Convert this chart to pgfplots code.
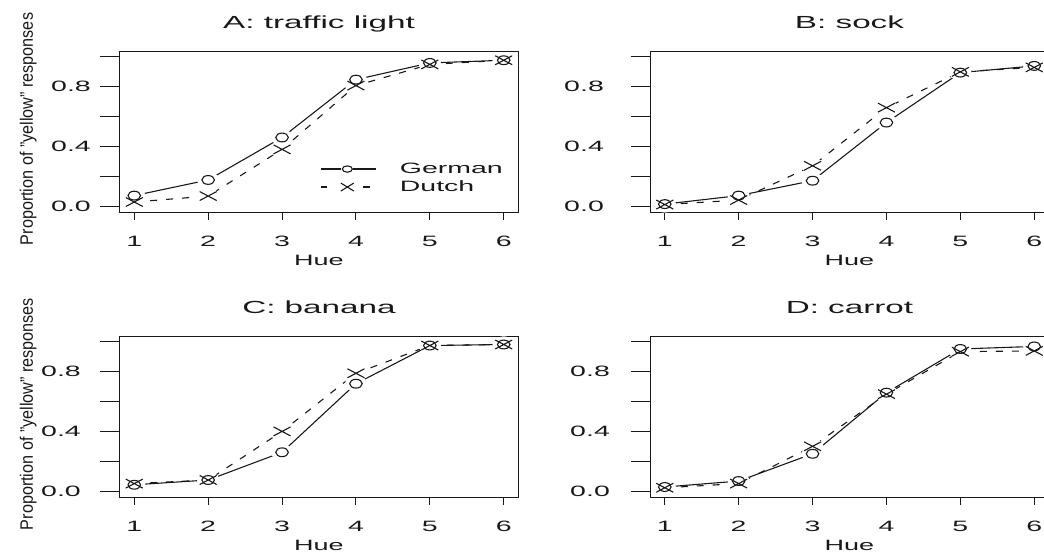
\documentclass[border=0pt]{standalone}
\usepackage{fontspec}
\setmainfont{Liberation Sans}
\usepackage{graphicx}
\usepackage{pgfplots}
\usepackage{pgfplotstable}
\pgfplotsset{compat=1.18}

\newcommand\w[1]{\scalebox{1.9}[1]{#1}}
\newcommand\wh[1]{\scalebox{1.8}[1]{#1}}

\pgfdeclareplotmark{gcirc}{%
  \pgfpathellipse{\pgfpointorigin}{\pgfqpoint{6.3bp}{0pt}}{\pgfqpoint{0pt}{4.4bp}}%
  \pgfusepathqstroke}
\pgfdeclareplotmark{dcross}{%
  \pgfpathmoveto{\pgfqpoint{-8.5bp}{-4.5bp}}\pgfpathlineto{\pgfqpoint{8.5bp}{4.5bp}}%
  \pgfpathmoveto{\pgfqpoint{-8.5bp}{4.5bp}}\pgfpathlineto{\pgfqpoint{8.5bp}{-4.5bp}}%
  \pgfusepathqstroke}
\pgfdeclareplotmark{gapblob}{%
  \pgfpathellipse{\pgfpointorigin}{\pgfqpoint{11bp}{0pt}}{\pgfqpoint{0pt}{8bp}}%
  \pgfusepathqfill}

\pgfplotstableread{
hue AG AD BG BD CG CD DG DD
1 0.070 0.027 0.013 0.010 0.042 0.050 0.027 0.022
2 0.175 0.067 0.070 0.040 0.074 0.074 0.067 0.050
3 0.460 0.380 0.170 0.270 0.260 0.400 0.250 0.300
4 0.848 0.808 0.560 0.660 0.720 0.790 0.660 0.650
5 0.960 0.950 0.895 0.900 0.976 0.976 0.953 0.935
6 0.978 0.978 0.940 0.930 0.983 0.983 0.970 0.940
}\hues

\definecolor{ink}{gray}{0.1}

\pgfplotsset{
  panel/.style={
    scale only axis, width=399bp, height=161bp,
    xmin=0.8, xmax=6.2, ymin=-0.04, ymax=1.04,
    axis line style={ink, line width=1bp},
    tick pos=left, tick align=outside,
    xtick={1,2,3,4,5,6}, xticklabels={\w{1},\w{2},\w{3},\w{4},\w{5},\w{6}},
    ytick={0,0.2,0.4,0.6,0.8,1}, yticklabels={\w{0.0},,\w{0.4},,\w{0.8},},
    xtick style={ink, line width=1bp, /pgfplots/major tick length=8bp},
    ytick style={ink, line width=1bp, /pgfplots/major tick length=19bp},
    font=\fontsize{15bp}{18bp}\selectfont,
    ticklabel style={font=\fontsize{15bp}{18bp}\selectfont, text=ink},
    xticklabel style={anchor=base, inner sep=0pt, yshift=-30.2bp},
    xlabel={\wh{Hue}},
    xlabel style={at={(axis description cs:0.5,0)}, anchor=center, yshift=-48bp, inner sep=0pt, text=ink},
    every axis title/.style={at={(axis description cs:0.5,1)}, anchor=base, yshift=22.7bp,
      font=\fontsize{17.5bp}{20bp}\selectfont, inner sep=0pt, text=ink},
    legend cell align=left,
  },
  withylabel/.style={
    ylabel={\fontsize{18bp}{21bp}\selectfont\scalebox{0.9}[1]{Proportion of "yellow" responses}},
    every axis y label/.style={at={(axis description cs:0,0.5)}, xshift=-86.5bp, yshift=2.5bp,
      rotate=90, anchor=base, inner sep=0pt, text=ink},
  },
  gline/.style={ink, line width=1.1bp, solid, no markers,
    legend image code/.code={
      \draw[ink, line width=1.1bp, solid] (0bp,0bp) -- (20bp,0bp);
      \draw[ink, line width=1.1bp, solid] (32bp,0bp) -- (55bp,0bp);
      \draw[ink, line width=1.1bp, solid] (26bp,0bp) ellipse [x radius=5bp, y radius=3.2bp];
    }},
  dline/.style={ink, line width=1.1bp, dash pattern=on 7bp off 9bp, no markers,
    legend image code/.code={
      \draw[ink, line width=1.1bp, solid] (0bp,0bp) -- (6bp,0bp);
      \draw[ink, line width=1.1bp, solid] (42bp,0bp) -- (49bp,0bp);
      \draw[ink, line width=1.1bp, solid] (19.5bp,-4bp) -- (32.5bp,4bp);
      \draw[ink, line width=1.1bp, solid] (19.5bp,4bp) -- (32.5bp,-4bp);
      \path (55bp,0bp);
    }},
  blob/.style={forget plot, only marks, mark=gapblob,
    mark options={draw=none, fill=white}},
  gmark/.style={forget plot, only marks, mark=gcirc,
    mark options={draw=ink, line width=1.1bp, solid}},
  dmark/.style={forget plot, only marks, mark=dcross,
    mark options={draw=ink, line width=1.1bp, solid}},
}

\newcommand\panelplots[2]{%
  \addplot[gline] table[x=hue,y=#1]{\hues};
  \addplot[dline] table[x=hue,y=#2]{\hues};
  \addplot[blob] table[x=hue,y=#1]{\hues};
  \addplot[blob] table[x=hue,y=#2]{\hues};
  \addplot[gmark] table[x=hue,y=#1]{\hues};
  \addplot[dmark] table[x=hue,y=#2]{\hues};
}

\begin{document}
\begin{tikzpicture}
\begin{axis}[panel, withylabel, at={(119.5bp,-212bp)}, anchor=south west,
  title={\w{A: traffic light}},
  yticklabel style={anchor=east, inner sep=0pt, xshift=-24.2bp},
  legend style={draw=none, fill=none, inner sep=0pt, at={(rel axis cs:0.504,0.211)}, anchor=west,
    font=\fontsize{15bp}{18bp}\selectfont, text=ink, row sep=0pt,
    nodes={text height=11bp, text depth=3bp, inner sep=2bp},
    /tikz/every odd column/.append style={column sep=21bp}}]
\panelplots{AG}{AD}
\legend{\w{German},\w{Dutch}}
\end{axis}
\begin{axis}[panel, at={(650bp,-212bp)}, anchor=south west,
  title={\w{B: sock}},
  yticklabel style={anchor=east, inner sep=0pt, xshift=-41.7bp}]
\panelplots{BG}{BD}
\end{axis}
\begin{axis}[panel, withylabel, at={(119.5bp,-497bp)}, anchor=south west,
  title={\w{C: banana}},
  yticklabel style={anchor=east, inner sep=0pt, xshift=-34.2bp}]
\panelplots{CG}{CD}
\end{axis}
\begin{axis}[panel, at={(650bp,-497bp)}, anchor=south west,
  title={\w{D: carrot}},
  yticklabel style={anchor=east, inner sep=0pt, xshift=-35.7bp}]
\panelplots{DG}{DD}
\end{axis}
\pgfresetboundingbox
\path[use as bounding box] (0bp,0bp) rectangle (1044bp,-556bp);
\end{tikzpicture}
\end{document}
